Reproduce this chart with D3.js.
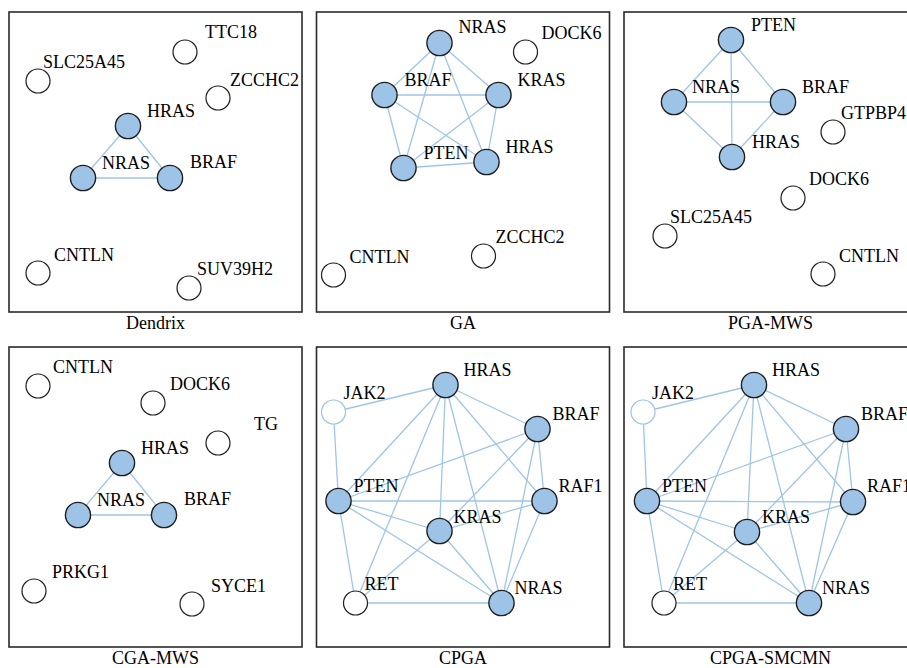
<!DOCTYPE html>
<html>
<head>
<meta charset="utf-8">
<script src="https://cdn.jsdelivr.net/npm/d3@7/dist/d3.min.js"></script>
<style>
  html, body { margin: 0; padding: 0; background: #fff; }
  svg { display: block; }
  text { font-family: "Liberation Serif", "Times New Roman", "DejaVu Serif", serif; }
</style>
</head>
<body>
<svg id="chart" width="907" height="668"></svg>
<script>
// Panel titles, in reading order (row by row)
const panelTitles = ["Dendrix", "GA", "PGA-MWS", "CGA-MWS", "CPGA", "CPGA-SMCMN"];

// Node layouts per panel: [gene, x, y, labelX, labelY, kind]
// kind: "core" = filled gene, "free" = unfilled gene, "soft" = unfilled gene with light outline
const dendrixNodes = [
  ["TTC18", 176, 40, 196, 26, "free"],
  ["SLC25A45", 29, 69, 34, 56, "free"],
  ["ZCCHC2", 209, 86, 221, 74, "free"],
  ["HRAS", 119, 114, 138, 105, "core"],
  ["NRAS", 74, 166, 93, 157, "core"],
  ["BRAF", 161, 166, 181, 156, "core"],
  ["CNTLN", 29, 261, 45, 249, "free"],
  ["SUV39H2", 180, 276, 188, 263, "free"]
];
const dendrixEdges = [["HRAS", "NRAS"], ["HRAS", "BRAF"], ["NRAS", "BRAF"]];

const gaNodes = [
  ["NRAS", 123, 31, 142, 21, "core"],
  ["DOCK6", 209, 40, 225, 27, "free"],
  ["BRAF", 68, 83, 88, 74, "core"],
  ["KRAS", 182, 83, 201, 74, "core"],
  ["PTEN", 87, 156, 107, 147, "core"],
  ["HRAS", 170, 150, 189, 141, "core"],
  ["ZCCHC2", 167, 244, 179, 231, "free"],
  ["CNTLN", 17, 263, 33, 251, "free"]
];
const gaEdges = [
  ["NRAS", "BRAF"], ["NRAS", "KRAS"], ["NRAS", "PTEN"], ["NRAS", "HRAS"],
  ["BRAF", "KRAS"], ["BRAF", "PTEN"], ["BRAF", "HRAS"],
  ["KRAS", "PTEN"], ["KRAS", "HRAS"], ["PTEN", "HRAS"]
];

const pgaMwsNodes = [
  ["PTEN", 107, 28, 127, 19, "core"],
  ["NRAS", 50, 90, 68, 81, "core"],
  ["BRAF", 159, 90, 178, 81, "core"],
  ["HRAS", 108, 145, 128, 136, "core"],
  ["GTPBP4", 209, 120, 217, 107, "free"],
  ["DOCK6", 169, 186, 185, 173, "free"],
  ["SLC25A45", 41, 224, 46, 211, "free"],
  ["CNTLN", 199, 262, 215, 250, "free"]
];
const pgaMwsEdges = [
  ["PTEN", "NRAS"], ["PTEN", "BRAF"], ["PTEN", "HRAS"],
  ["NRAS", "BRAF"], ["NRAS", "HRAS"], ["BRAF", "HRAS"]
];

const cgaMwsNodes = [
  ["CNTLN", 29, 39, 44, 26, "free"],
  ["DOCK6", 144, 56, 161, 43, "free"],
  ["TG", 209, 96, 245, 83, "free"],
  ["HRAS", 113, 116, 132, 107, "core"],
  ["NRAS", 69, 168, 88, 159, "core"],
  ["BRAF", 155, 168, 175, 158, "core"],
  ["PRKG1", 25, 244, 43, 231, "free"],
  ["SYCE1", 183, 257, 202, 245, "free"]
];
const cgaMwsEdges = [["HRAS", "NRAS"], ["HRAS", "BRAF"], ["NRAS", "BRAF"]];

const cpgaNodes = [
  ["HRAS", 129, 38, 147, 29, "core"],
  ["JAK2", 17, 65, 27, 52, "soft"],
  ["BRAF", 221, 82, 236, 73, "core"],
  ["PTEN", 22, 154, 37, 145, "core"],
  ["RAF1", 228, 154, 242, 145, "core"],
  ["KRAS", 123, 184, 137, 176, "core"],
  ["RET", 39, 256, 48, 243, "free"],
  ["NRAS", 185, 256, 198, 247, "core"]
];
const cpgaEdges = [
  ["JAK2", "HRAS"], ["JAK2", "PTEN"],
  ["HRAS", "PTEN"], ["HRAS", "RET"], ["HRAS", "KRAS"], ["HRAS", "NRAS"], ["HRAS", "RAF1"], ["HRAS", "BRAF"],
  ["BRAF", "PTEN"], ["BRAF", "KRAS"], ["BRAF", "NRAS"], ["BRAF", "RAF1"],
  ["PTEN", "RAF1"], ["PTEN", "KRAS"], ["PTEN", "NRAS"], ["PTEN", "RET"],
  ["RAF1", "KRAS"], ["RAF1", "NRAS"],
  ["KRAS", "RET"], ["KRAS", "NRAS"], ["RET", "NRAS"]
];

const cpgaSmcmnNodes = [
  ["HRAS", 130, 38, 148, 29, "core"],
  ["JAK2", 19, 65, 28, 52, "soft"],
  ["BRAF", 222, 82, 237, 73, "core"],
  ["PTEN", 23, 154, 38, 145, "core"],
  ["RAF1", 229, 155, 243, 145, "core"],
  ["KRAS", 123, 185, 138, 176, "core"],
  ["RET", 40, 256, 49, 243, "free"],
  ["NRAS", 185, 256, 198, 247, "core"]
];
const cpgaSmcmnEdges = cpgaEdges.map(e => e.slice());

const panelNodes = [dendrixNodes, gaNodes, pgaMwsNodes, cgaMwsNodes, cpgaNodes, cpgaSmcmnNodes];
const panelEdges = [dendrixEdges, gaEdges, pgaMwsEdges, cgaMwsEdges, cpgaEdges, cpgaSmcmnEdges];

// ---- drawing ----
const svg = d3.select("#chart");
const layoutW = 293, layoutH = 300;
const panelW = 293, panelH = 300;
const colStep = 307.5, rowStep = 335;
const originX = 9, originY = 12;

const blue = "#9dc3e6";
const edgeBlue = "#9fc5e6";
const ink = "#1e1e1e";

panelTitles.forEach((title, i) => {
  const col = i % 3, row = Math.floor(i / 3);
  const left = originX + col * colStep;
  const top = originY + row * rowStep;

  const x = d3.scaleLinear().domain([0, layoutW]).range([left, left + panelW]);
  const y = d3.scaleLinear().domain([0, layoutH]).range([top, top + panelH]);

  const g = svg.append("g").attr("class", "panel");

  g.append("rect")
    .attr("x", x(0)).attr("y", y(0))
    .attr("width", x(layoutW) - x(0)).attr("height", y(layoutH) - y(0))
    .attr("fill", "none")
    .attr("stroke", "#2a2a2a")
    .attr("stroke-width", 1.6);

  const nodes = panelNodes[i].map(([id, nx, ny, lx, ly, kind]) => ({ id, nx, ny, lx, ly, kind }));
  const byId = new Map(nodes.map(n => [n.id, n]));
  const edges = panelEdges[i].map(([a, b]) => ({ s: byId.get(a), t: byId.get(b) }));

  g.append("g").selectAll("line").data(edges).join("line")
    .attr("x1", d => x(d.s.nx)).attr("y1", d => y(d.s.ny))
    .attr("x2", d => x(d.t.nx)).attr("y2", d => y(d.t.ny))
    .attr("stroke", edgeBlue)
    .attr("stroke-width", 1.3);

  g.append("g").selectAll("circle").data(nodes).join("circle")
    .attr("cx", d => x(d.nx)).attr("cy", d => y(d.ny))
    .attr("r", d => d.kind === "core" ? 12.6 : 12)
    .attr("fill", d => d.kind === "core" ? blue : "#fff")
    .attr("stroke", d => d.kind === "soft" ? blue : ink)
    .attr("stroke-width", d => d.kind === "core" ? 1.4 : 1.2);

  g.append("g").selectAll("text").data(nodes).join("text")
    .attr("x", d => x(d.lx)).attr("y", d => y(d.ly))
    .attr("font-size", 18)
    .attr("fill", "#000")
    .text(d => d.id);

  g.append("text")
    .attr("x", x(layoutW / 2)).attr("y", y(layoutH) + 17)
    .attr("text-anchor", "middle")
    .attr("font-size", 18)
    .attr("fill", "#000")
    .text(title);
});
</script>
</body>
</html>
